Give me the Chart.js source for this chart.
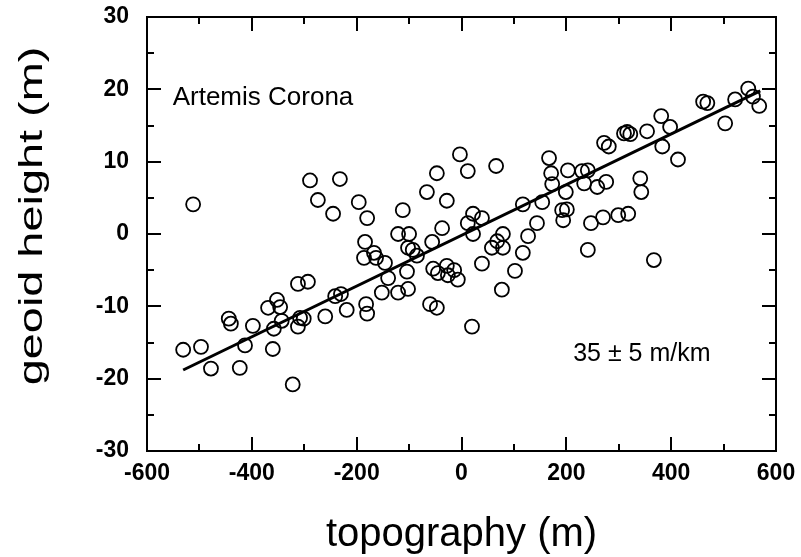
<!DOCTYPE html>
<html><head><meta charset="utf-8">
<script src="https://cdn.jsdelivr.net/npm/chart.js@4.4.0/dist/chart.umd.min.js"></script>
<style>html,body{margin:0;padding:0;background:#fff}canvas{display:block}</style>
</head><body>
<canvas id="c" width="801" height="557"></canvas>
<script>
// ---- data ----
const topography = [
  -512,-531,-497,-478,-444,-440,-398,-413,-423,-360,
  -358,-369,-352,-346,-343,-322,-312,-293,-308,-301,
  -312,-260,-289,-232,-274,-245,-241,-230,-219,-196,
  -180,-182,-180,-184,-186,-167,-163,-146,-140,-152,
  -121,-102,-104,-112,-121,-100,-102,-93,-85,-56,
  -66,-47,-28,-37,-3,12,66,-60,-47,-54,
  -45,-28,-26,-14,-7,20,22,12,39,22,
  39,58,68,79,79,77,102,117,127,144,
  117,154,167,171,173,203,199,230,241,234,
  259,276,201,192,194,247,270,299,318,241,
  367,341,343,272,281,310,316,322,354,381,
  398,383,413,461,469,503,522,547,556,568
];
const geoidHeight = [
  4.1,-16.0,-15.6,-18.6,-11.7,-12.4,-12.7,-15.4,-18.5,-15.9,
  -13.1,-10.2,-9.1,-10.1,-12.0,-20.8,-6.9,-6.6,-11.6,-11.7,
  -12.8,-11.4,7.4,7.6,4.7,2.8,-8.6,-8.3,-10.5,4.4,
  2.2,-9.7,-11.0,-1.1,-3.3,-2.6,-3.3,-4.0,-6.1,-8.1,
  -8.1,-7.6,-5.2,3.3,0.0,0.0,-1.9,-2.2,-3.0,-1.1,
  5.8,8.4,4.6,0.8,11.0,8.7,9.4,-9.7,-10.2,-4.8,
  -5.4,-4.4,-5.7,-5.0,-6.3,-12.8,2.8,1.5,2.2,0.0,
  -4.1,-1.9,-1.0,0.0,-1.9,-7.7,-5.1,-2.6,-0.3,1.5,
  4.1,4.4,10.5,8.4,6.9,8.8,5.8,8.7,8.8,7.0,
  6.5,7.2,3.4,3.3,1.9,1.5,2.3,2.6,2.8,-2.2,
  -3.6,7.7,5.8,12.6,12.1,13.9,14.1,13.8,14.2,16.3,
  14.8,12.1,10.3,18.3,18.1,15.3,18.6,20.1,19.0,17.7
];
const fitTopography = [-531, 570];
const fitGeoid = [-18.8, 19.8];
const xTickValues = [-600,-400,-200,0,200,400,600];
const yTickValues = [-30,-20,-10,0,10,20,30];
const xTitle = 'topography (m)';
const yTitle = 'geoid height (m)';
const nameLabel = 'Artemis Corona';
const nameLabelAt = [-551, 17.9];
const slopeLabel = '35 \u00b1 5 m/km';
const slopeLabelAt = [213, -17.5];

const FONT = "'Liberation Sans', Arial, Helvetica, sans-serif";

const points = topography.map((x, i) => ({x: x, y: geoidHeight[i]}));
const fitLine = fitTopography.map((x, i) => ({x: x, y: fitGeoid[i]}));

function midpoints(arr){ const m=[]; for(let i=0;i<arr.length-1;i++) m.push((arr[i]+arr[i+1])/2); return m; }

const framePlugin = {
  id: 'frame',
  afterDatasetsDraw(chart){
    const ctx = chart.ctx, a = chart.chartArea;
    const sx = chart.scales.x, sy = chart.scales.y;
    ctx.save();
    ctx.strokeStyle = '#000';
    ctx.lineWidth = 2;
    ctx.strokeRect(a.left, a.top, a.right - a.left, a.bottom - a.top);
    ctx.beginPath();
    const xs = [[xTickValues.slice(1,-1),14],[midpoints(xTickValues),7]];
    xs.forEach(([vals,len]) => vals.forEach(v => {
      const p = Math.round(sx.getPixelForValue(v));
      ctx.moveTo(p, a.bottom); ctx.lineTo(p, a.bottom - len);
      ctx.moveTo(p, a.top); ctx.lineTo(p, a.top + len);
    }));
    const ys = [[yTickValues.slice(1,-1),14],[midpoints(yTickValues),7]];
    ys.forEach(([vals,len]) => vals.forEach(v => {
      const p = Math.round(sy.getPixelForValue(v));
      ctx.moveTo(a.left, p); ctx.lineTo(a.left + len, p);
      ctx.moveTo(a.right, p); ctx.lineTo(a.right - len, p);
    }));
    ctx.stroke();
    // annotations
    ctx.fillStyle = '#000';
    ctx.font = '26px ' + FONT;
    ctx.textAlign = 'left';
    ctx.textBaseline = 'alphabetic';
    ctx.fillText(nameLabel, sx.getPixelForValue(nameLabelAt[0]), sy.getPixelForValue(nameLabelAt[1]));
    ctx.font = '25px ' + FONT;
    ctx.fillText(slopeLabel, sx.getPixelForValue(slopeLabelAt[0]), sy.getPixelForValue(slopeLabelAt[1]));
    // y axis title (stretched along its length as in the reference)
    ctx.save();
    ctx.translate(33, (a.top + a.bottom) / 2 - 18);
    ctx.rotate(-Math.PI / 2);
    ctx.scale(1.42, 1);
    ctx.font = '33px ' + FONT;
    ctx.textAlign = 'center';
    ctx.textBaseline = 'middle';
    ctx.fillText(yTitle, 0, 0);
    ctx.restore();
    ctx.restore();
  }
};

new Chart(document.getElementById('c'), {
  type: 'scatter',
  data: {
    datasets: [
      {
        type: 'scatter',
        data: points,
        pointStyle: 'circle',
        pointRadius: 7,
        pointHoverRadius: 7,
        borderColor: '#000',
        backgroundColor: 'rgba(0,0,0,0)',
        borderWidth: 1.8,
        order: 2
      },
      {
        type: 'line',
        data: fitLine,
        showLine: true,
        borderColor: '#000',
        borderWidth: 3,
        pointRadius: 0,
        fill: false,
        order: 1
      }
    ]
  },
  options: {
    responsive: false,
    devicePixelRatio: 1,
    animation: false,
    events: [],
    layout: { padding: { top: 17, right: 25, left: 0, bottom: 0 } },
    plugins: { legend: { display: false }, tooltip: { enabled: false } },
    scales: {
      x: {
        type: 'linear', position: 'bottom', min: -600, max: 600,
        afterBuildTicks(s){ s.ticks = xTickValues.map(v => ({value: v})); },
        afterFit(s){ s.height = 106; s.paddingLeft = 0; s.paddingRight = 0; },
        grid: { display: false, drawTicks: false },
        border: { display: false },
        ticks: { color: '#000', padding: 9, maxRotation: 0, autoSkip: false,
                 font: { family: FONT, size: 23, weight: 'bold' } },
        title: { display: true, text: xTitle, color: '#000',
                 font: { family: FONT, size: 40, lineHeight: 1.1 }, padding: { top: 0, bottom: 0 } }
      },
      y: {
        type: 'linear', position: 'left', min: -30, max: 30,
        afterBuildTicks(s){ s.ticks = yTickValues.map(v => ({value: v})); },
        afterFit(s){ s.width = 147; s.paddingTop = 0; s.paddingBottom = 0; },
        grid: { display: false, drawTicks: false },
        border: { display: false },
        ticks: { color: '#000', padding: 18, autoSkip: false,
                 font: { family: FONT, size: 23, weight: 'bold' } }
      }
    }
  },
  plugins: [framePlugin]
});
</script>
</body></html>
